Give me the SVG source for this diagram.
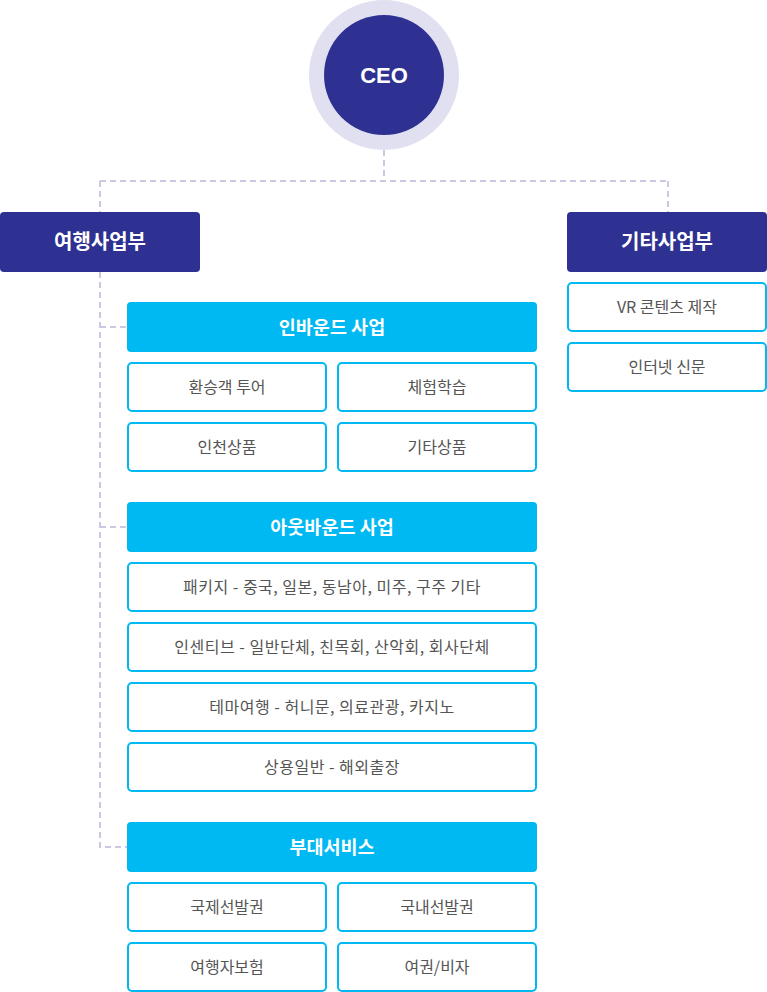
<svg xmlns="http://www.w3.org/2000/svg" width="767" height="992" viewBox="0 0 767 992">
<style>
.dept{fill:#2e3192}
.head{fill:#00b9f2}
.item{fill:#fff;stroke:#00b9f2;stroke-width:2}
.tw{fill:#fff;font-family:"Noto Sans CJK KR","Noto Sans",sans-serif;font-weight:700;font-size:20px;text-anchor:middle}
.th{fill:#fff;font-family:"Noto Sans CJK KR","Noto Sans",sans-serif;font-weight:700;font-size:18.5px;text-anchor:middle}
.ti{fill:#555;font-family:"Noto Sans CJK KR","Noto Sans",sans-serif;font-size:16px;text-anchor:middle}
.tl{letter-spacing:0.5px}
.conn{fill:none;stroke:#cbc8e4;stroke-width:2;stroke-dasharray:6 4}
</style>
<rect width="767" height="992" fill="#fff"/>
<g id="connectors">
<path class="conn" d="M384 150 V181 M100 181 H668 M100 181 V212 M668 181 V212"/>
<path class="conn" d="M100 272 V847 H127 M100 327 H127 M100 527 H127"/>
</g>
<g id="ceo">
<circle cx="384" cy="75" r="75" fill="#e1e0f0"/>
<circle cx="384" cy="75" r="60" fill="#2e3192"/>
<text x="384" y="83" class="tw" style="font-size:22px;font-family:'Liberation Sans',sans-serif">CEO</text>
</g>
<g id="travel">
<rect class="dept" x="0" y="212" width="200" height="60" rx="4"/>
<text x="100" y="249" class="tw">여행사업부</text>
</g>
<g id="other">
<rect class="dept" x="567" y="212" width="200" height="60" rx="4"/>
<text x="667" y="249" class="tw">기타사업부</text>
</g>
<g id="vr">
<rect class="item" x="568" y="283" width="198" height="48" rx="4"/>
<text x="667" y="313" class="ti">VR 콘텐츠 제작</text>
</g>
<g id="news">
<rect class="item" x="568" y="343" width="198" height="48" rx="4"/>
<text x="667" y="373" class="ti">인터넷 신문</text>
</g>
<g id="inbound">
<rect class="head" x="127" y="302" width="410" height="50" rx="4"/>
<text x="332" y="334" class="th">인바운드 사업</text>
</g>
<g id="in1"><rect class="item" x="128" y="363" width="198" height="48" rx="4"/><text x="227" y="393" class="ti">환승객 투어</text></g>
<g id="in2"><rect class="item" x="338" y="363" width="198" height="48" rx="4"/><text x="437" y="393" class="ti">체험학습</text></g>
<g id="in3"><rect class="item" x="128" y="423" width="198" height="48" rx="4"/><text x="227" y="453" class="ti">인천상품</text></g>
<g id="in4"><rect class="item" x="338" y="423" width="198" height="48" rx="4"/><text x="437" y="453" class="ti">기타상품</text></g>
<g id="outbound">
<rect class="head" x="127" y="502" width="410" height="50" rx="4"/>
<text x="332" y="534" class="th">아웃바운드 사업</text>
</g>
<g id="out1"><rect class="item" x="128" y="563" width="408" height="48" rx="4"/><text x="332" y="593" class="ti tl">패키지 - 중국, 일본, 동남아, 미주, 구주 기타</text></g>
<g id="out2"><rect class="item" x="128" y="623" width="408" height="48" rx="4"/><text x="332" y="653" class="ti tl">인센티브 - 일반단체, 친목회, 산악회, 회사단체</text></g>
<g id="out3"><rect class="item" x="128" y="683" width="408" height="48" rx="4"/><text x="332" y="713" class="ti tl">테마여행 - 허니문, 의료관광, 카지노</text></g>
<g id="out4"><rect class="item" x="128" y="743" width="408" height="48" rx="4"/><text x="332" y="773" class="ti tl">상용일반 - 해외출장</text></g>
<g id="service">
<rect class="head" x="127" y="822" width="410" height="50" rx="4"/>
<text x="332" y="854" class="th">부대서비스</text>
</g>
<g id="sv1"><rect class="item" x="128" y="883" width="198" height="48" rx="4"/><text x="227" y="913" class="ti">국제선발권</text></g>
<g id="sv2"><rect class="item" x="338" y="883" width="198" height="48" rx="4"/><text x="437" y="913" class="ti">국내선발권</text></g>
<g id="sv3"><rect class="item" x="128" y="943" width="198" height="48" rx="4"/><text x="227" y="973" class="ti">여행자보험</text></g>
<g id="sv4"><rect class="item" x="338" y="943" width="198" height="48" rx="4"/><text x="437" y="973" class="ti">여권/비자</text></g>
</svg>
